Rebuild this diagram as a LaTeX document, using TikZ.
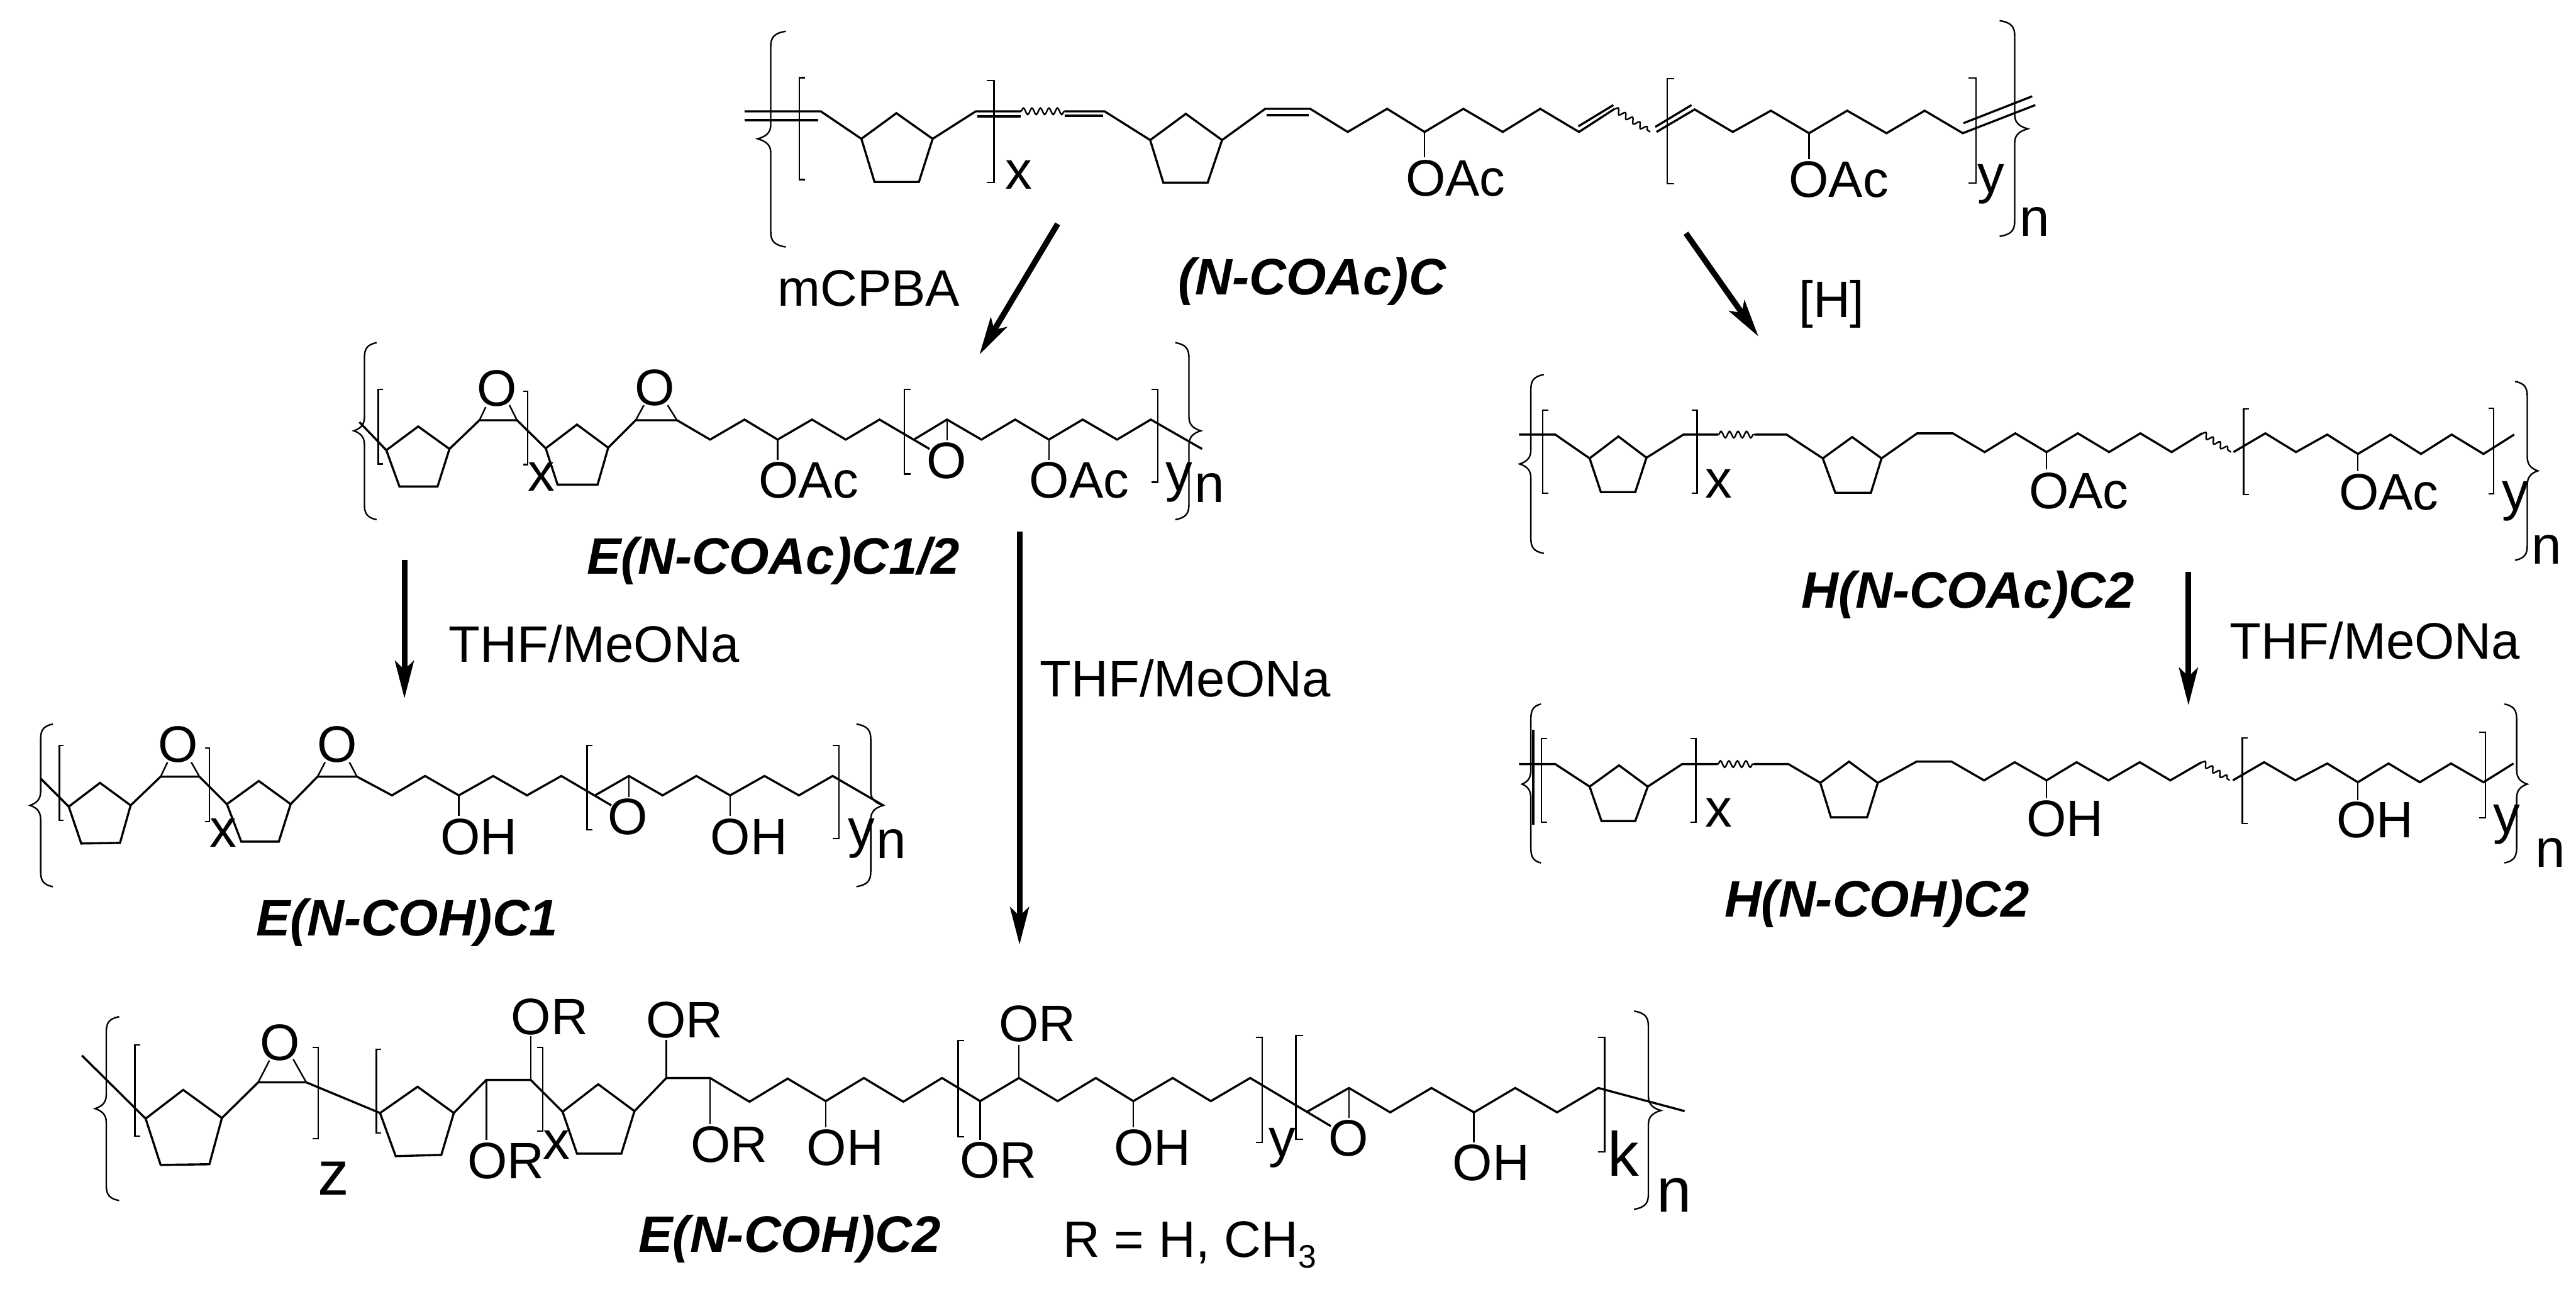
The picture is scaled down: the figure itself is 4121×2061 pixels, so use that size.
\documentclass[tikz,border=0pt]{standalone}
\usepackage{fontspec}
\setmainfont{Liberation Sans}
\usetikzlibrary{arrows.meta,decorations.pathmorphing}
\tikzset{
 bd/.style={line width=0.85pt,line join=miter,miter limit=10,line cap=butt},
 thin bd/.style={line width=0.62pt,line join=miter},
 brk/.style={line width=0.62pt},
 brc/.style={line width=0.6pt},
 wav/.style={line width=0.6pt,decorate,decoration={snake,segment length=3.4pt,amplitude=1.3pt}},
 wavd/.style={line width=0.6pt,decorate,decoration={snake,segment length=3.4pt,amplitude=1.1pt}},
 rxn/.style={line width=2.3pt,-{Stealth[length=15pt,width=7.5pt,inset=3.5pt]}},
 txt/.style={inner sep=0pt,anchor=base west,font=\fontsize{20.5}{24}\selectfont},
 idx/.style={inner sep=0pt,anchor=base west,font=\fontsize{21.5}{24}\selectfont},
 big/.style={inner sep=0pt,anchor=base west,font=\fontsize{25}{28}\selectfont},
 lab/.style={inner sep=0pt,anchor=base west,font=\fontsize{20.5}{24}\selectfont\bfseries\itshape},
}
\newcommand{\SB}[4]{\draw[brk] (#4,#2)--(#1,#2)--(#1,#3)--(#4,#3);}
\newcommand{\BR}[5]{% x top mid bot tip
 \pgfmathsetmacro{\ex}{#1-(#5-#1)*1.15}
 \pgfmathsetmacro{\ea}{#1-(#5-#1)*.25}
 \pgfmathsetmacro{\eb}{#1+(#5-#1)*.5}
 \draw[brc] (\ex,#2) .. controls (\ea,{#2+3}) and (#1,{#2+10}) .. (#1,{#2+24}) -- (#1,{#3-22})
  .. controls (#1,{#3-8}) and (\eb,{#3-3}) .. (#5,#3)
  .. controls (\eb,{#3+3}) and (#1,{#3+8}) .. (#1,{#3+22}) -- (#1,{#4-24})
  .. controls (#1,{#4-10}) and (\ea,{#4-3}) .. (\ex,#4);}
\begin{document}
\begin{tikzpicture}[x=0.25pt,y=-0.25pt]
\useasboundingbox (0,0) rectangle (4121,2061);
%%% ---- top structure
\BR{1233}{50}{222}{395}{1212}
\BR{3223}{33}{206}{378}{3244}
\SB{1279}{124}{287}{1288}
\SB{1590}{129}{292}{1579}
\SB{2667}{126}{294}{2678}
\SB{3161}{125}{293}{3149}
\draw[bd] (1191,178)--(1313,178)--(1378,222)--(1434,181)--(1492,222)--(1470,291)--(1399,291)--(1378,222);
\draw[bd] (1191,192)--(1309,192);
\draw[bd] (1492,222)--(1561,178)--(1633,178);
\draw[bd] (1563,186)--(1633,186);
\draw[wav] (1633,178)--(1703,178);
\draw[bd] (1703,178)--(1767,178)--(1840,224)--(1897,182)--(1955,224)--(1932,292)--(1861,292)--(1840,224);
\draw[bd] (1703,185)--(1765,185);
\draw[bd] (1955,224)--(2024,174)--(2096,174)--(2156,211)--(2219,174)--(2279,211)--(2341,174)--(2404,211)--(2464,174)--(2526,211)--(2583,174);
\draw[bd] (2026,184)--(2094,184);
\draw[bd] (2525,202)--(2581,168);
\draw[wavd] (2583,174)--(2640,211);
\draw[bd] (2650,211)--(2711,175)--(2772,211)--(2833,177)--(2894,213)--(2955,177)--(3018,213)--(3079,177)--(3140,213)--(3256,168);
\draw[bd] (2648,203)--(2706,168);
\draw[bd] (3141,197)--(3251,154);
\draw[thin bd] (2279,211)--(2279,252);
\draw[thin bd] (2894,213)--(2894,255);
\node[txt] (oac1) at (2248,313) {OAc};
\node[txt] (oac2) at (2861,315) {OAc};
\node[idx] (x1) at (1607,302) {x};
\node[idx] (y1) at (3163,308) {y};
\node[idx] (n1) at (3230,378) {n};
\node[lab] (l1) at (1884,471) {(N-COAc)C};
\node[txt] (mcpba) at (1243,489) {mCPBA};
\node[txt] (hyd) at (2877,508) {[H]};
%%% ---- arrows
\coordinate (a1s) at (1692,358); \coordinate (a1e) at (1567,567);
\coordinate (a2s) at (2697,373); \coordinate (a2e) at (2813,538);
\coordinate (a3s) at (647,895);  \coordinate (a3e) at (647,1117);
\coordinate (a4s) at (1631,850); \coordinate (a4e) at (1631,1511);
\coordinate (a5s) at (3501,915); \coordinate (a5e) at (3501,1128);
\draw[rxn] (a1s)--(a1e);
\draw[rxn] (a2s)--(a2e);
\draw[rxn] (a3s)--(a3e);
\draw[rxn] (a4s)--(a4e);
\draw[rxn] (a5s)--(a5e);
\node[txt] (t1) at (717,1059) {THF/MeONa};
\node[txt] (t2) at (1663,1114) {THF/MeONa};
\node[txt] (t3) at (3566,1054) {THF/MeONa};
%%% ---- E(N-COAc)C1/2
\BR{583}{548}{689}{831}{566}
\BR{1902}{548}{689}{831}{1921}
\SB{605}{623}{742}{613}
\SB{844}{626}{743}{837}
\SB{1447}{623}{758}{1457}
\SB{1852}{623}{771}{1842}
\draw[bd] (575,675)--(618,720)--(669,682)--(719,718)--(700,778)--(639,778)--(618,720);
\draw[bd] (719,718)--(767,672)--(827,672)--(873,717)--(923,679)--(973,716)--(956,775)--(892,775)--(873,717);
\draw[thin bd] (767,672)--(777,651) (827,672)--(815,648);
\draw[bd] (973,716)--(1017,672)--(1083,672)--(1136,703)--(1191,671)--(1244,703)--(1299,671)--(1353,703)--(1407,671)--(1487,718);
\draw[thin bd] (1017,672)--(1030,648) (1083,672)--(1068,648);
\draw[bd] (1462,703)--(1515,671)--(1570,703)--(1624,671)--(1678,703)--(1732,671)--(1787,703)--(1841,671)--(1923,718);
\draw[thin bd] (1515,671)--(1515,704) (1244,703)--(1244,735) (1678,703)--(1678,735);
\node[txt] (o21) at (762,649) {O};
\node[txt] (o22) at (1015,648) {O};
\node[txt] (o23) at (1482,765) {O};
\node[txt] (oac3) at (1213,796) {OAc};
\node[txt] (oac4) at (1646,796) {OAc};
\node[idx] (x2) at (844,785) {x};
\node[idx] (y2) at (1864,785) {y};
\node[idx] (n2) at (1910,803) {n};
\node[lab] (l2) at (938,918) {E(N-COAc)C1/2};
%%% ---- E(N-COH)C1
\BR{65}{1158}{1288}{1418}{48}
\BR{1393}{1158}{1288}{1418}{1413}
\SB{95}{1192}{1312}{102}
\SB{335}{1196}{1314}{328}
\SB{939}{1192}{1327}{948}
\SB{1342}{1192}{1341}{1332}
\draw[bd] (65,1245)--(110,1290)--(160,1252)--(209,1288)--(192,1348)--(130,1349)--(110,1290);
\draw[bd] (209,1288)--(257,1242)--(319,1242)--(363,1286)--(414,1249)--(465,1286)--(446,1346)--(386,1346)--(363,1286);
\draw[thin bd] (257,1242)--(268,1219) (319,1242)--(306,1219);
\draw[bd] (465,1286)--(508,1242)--(571,1242)--(627,1272)--(680,1241)--(734,1272)--(789,1241)--(843,1272)--(898,1241)--(978,1288);
\draw[thin bd] (508,1242)--(520,1219) (571,1242)--(559,1219);
\draw[bd] (952,1272)--(1006,1241)--(1060,1272)--(1114,1241)--(1168,1272)--(1223,1241)--(1278,1272)--(1332,1241)--(1413,1288);
\draw[thin bd] (1006,1241)--(1006,1275) (734,1272)--(734,1305) (1168,1272)--(1168,1305);
\node[txt] (o31) at (252,1219) {O};
\node[txt] (o32) at (507,1219) {O};
\node[txt] (o33) at (972,1335) {O};
\node[txt] (oh1) at (704,1367) {OH};
\node[txt] (oh2) at (1136,1367) {OH};
\node[idx] (x3) at (335,1355) {x};
\node[idx] (y3) at (1356,1355) {y};
\node[idx] (n3) at (1401,1373) {n};
\node[lab] (l3) at (409,1497) {E(N-COH)C1};
%%% ---- E(N-COH)C2
\BR{170}{1626}{1773}{1920}{152}
\BR{2637}{1617}{1776}{1934}{2657}
\SB{216}{1671}{1817}{224}
\SB{509}{1675}{1821}{500}
\SB{602}{1678}{1812}{610}
\SB{868}{1675}{1809}{859}
\SB{1533}{1664}{1818}{1542}
\SB{2019}{1659}{1827}{2009}
\SB{2073}{1656}{1822}{2085}
\SB{2567}{1659}{1842}{2556}
\draw[bd] (131,1688)--(233,1789)--(293,1743)--(355,1788)--(335,1862)--(257,1863)--(233,1789);
\draw[bd] (355,1788)--(413,1731)--(490,1731)--(608,1780)--(668,1738)--(726,1780)--(706,1847)--(633,1849)--(608,1780);
\draw[thin bd] (413,1731)--(431,1696) (490,1731)--(469,1694);
\draw[bd] (726,1780)--(778,1727)--(849,1727)--(900,1778)--(957,1734)--(1015,1777)--(994,1845)--(923,1845)--(900,1778);
\draw[bd] (1015,1777)--(1066,1724)--(1136,1724)--(1199,1762)--(1260,1725)--(1321,1761)--(1382,1724)--(1445,1762)--(1507,1724)--(1568,1761)--(1630,1724)--(1692,1761)--(1753,1724)--(1813,1761)--(1876,1724)--(1937,1761)--(2000,1724)--(2129,1801);
\draw[bd] (2091,1778)--(2158,1740)--(2224,1779)--(2290,1740)--(2358,1779)--(2424,1740)--(2491,1779)--(2557,1740)--(2695,1777);
\draw[thin bd] (778,1727)--(778,1823) (849,1727)--(849,1657) (1066,1724)--(1066,1663) (1136,1724)--(1136,1798) (1321,1761)--(1321,1803) (1630,1724)--(1630,1671) (1568,1761)--(1568,1823) (1813,1761)--(1813,1803) (2158,1740)--(2158,1788) (2358,1779)--(2358,1827);
\node[txt] (o41) at (415,1696) {O};
\node[txt] (o42) at (2125,1849) {O};
\node[txt] (or1) at (747,1885) {OR};
\node[txt] (or2) at (817,1654) {OR};
\node[txt] (or3) at (1033,1660) {OR};
\node[txt] (or4) at (1104,1859) {OR};
\node[txt] (or5) at (1597,1666) {OR};
\node[txt] (or6) at (1535,1884) {OR};
\node[txt] (oh3) at (1290,1864) {OH};
\node[txt] (oh4) at (1781,1864) {OH};
\node[txt] (oh5) at (2323,1888) {OH};
\node[big] (z4) at (508,1911) {z};
\node[idx] (x4) at (868,1854) {x};
\node[idx] (y4) at (2029,1850) {y};
\node[big] (k4) at (2571,1881) {k};
\node[big] (n4) at (2650,1938) {n};
\node[lab] (l4) at (1021,2003) {E(N-COH)C2};
\node[txt] (rr) at (1700,2011) {R = H, CH\raisebox{-4.2pt}{\fontsize{13}{13}\selectfont 3}};
%%% ---- H(N-COAc)C2
\BR{2449}{599}{742}{885}{2431}
\BR{4043}{610}{753}{896}{4060}
\SB{2468}{656}{789}{2477}
\SB{2715}{656}{789}{2706}
\SB{3589}{654}{791}{3598}
\SB{3989}{653}{790}{3981}
\draw[bd] (2430,695)--(2488,695)--(2543,733)--(2589,698)--(2634,732)--(2616,787)--(2561,787)--(2543,733);
\draw[bd] (2634,732)--(2693,695)--(2749,695);
\draw[wav] (2749,695)--(2808,695);
\draw[bd] (2808,695)--(2858,695)--(2916,733)--(2963,699)--(3010,733)--(2993,788)--(2936,788)--(2916,733);
\draw[bd] (3010,733)--(3067,693)--(3124,693)--(3175,723)--(3224,693)--(3274,723)--(3324,693)--(3374,723)--(3424,693)--(3474,723)--(3523,693);
\draw[wavd] (3523,693)--(3569,723);
\draw[bd] (3573,723)--(3624,693)--(3673,723)--(3723,695)--(3772,726)--(3824,695)--(3873,726)--(3922,695)--(3973,726)--(4022,695);
\draw[thin bd] (3274,723)--(3274,751) (3772,726)--(3772,754);
\node[txt] (oac5) at (3245,813) {OAc};
\node[txt] (oac6) at (3741,815) {OAc};
\node[idx] (x5) at (2727,796) {x};
\node[idx] (y5) at (4002,815) {y};
\node[idx] (n5) at (4049,902) {n};
\node[lab] (l5) at (2881,972) {H(N-COAc)C2};
%%% ---- H(N-COH)C2
\BR{2449}{1126}{1254}{1380}{2435}
\BR{4026}{1126}{1254}{1380}{4043}
\draw[bd] (2453,1167)--(2453,1319);
\SB{2466}{1181}{1315}{2475}
\SB{2713}{1181}{1315}{2704}
\SB{3587}{1180}{1317}{3596}
\SB{3976}{1171}{1308}{3966}
\draw[bd] (2430,1222)--(2488,1222)--(2543,1258)--(2590,1224)--(2636,1258)--(2616,1313)--(2562,1313)--(2543,1258);
\draw[bd] (2636,1258)--(2691,1222)--(2748,1222);
\draw[wav] (2748,1222)--(2806,1222);
\draw[bd] (2806,1222)--(2861,1222)--(2912,1252)--(2958,1218)--(3004,1252)--(2987,1307)--(2929,1307)--(2912,1252);
\draw[bd] (3004,1252)--(3066,1218)--(3122,1218)--(3174,1248)--(3223,1219)--(3274,1248)--(3322,1219)--(3373,1248)--(3423,1219)--(3472,1248)--(3522,1219);
\draw[wavd] (3522,1219)--(3567,1248);
\draw[bd] (3572,1248)--(3622,1219)--(3672,1248)--(3723,1221)--(3772,1251)--(3821,1221)--(3871,1251)--(3921,1221)--(3973,1251)--(4021,1221);
\draw[thin bd] (3274,1248)--(3274,1277) (3772,1251)--(3772,1280);
\node[txt] (oh6) at (3241,1338) {OH};
\node[txt] (oh7) at (3737,1340) {OH};
\node[idx] (x6) at (2727,1322) {x};
\node[idx] (y6) at (3988,1333) {y};
\node[idx] (n6) at (4055,1387) {n};
\node[lab] (l6) at (2758,1466) {H(N-COH)C2};
\end{tikzpicture}
\end{document}
